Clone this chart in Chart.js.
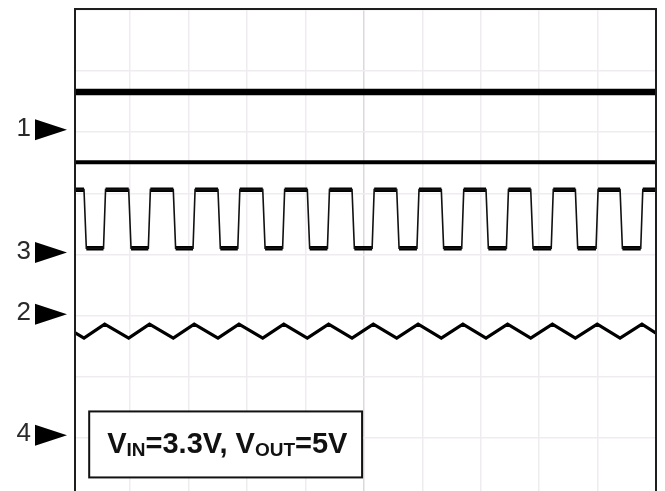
<!DOCTYPE html>
<html><head><meta charset="utf-8">
<script src="https://cdn.jsdelivr.net/npm/chart.js@4/dist/chart.umd.min.js"></script>
<style>html,body{margin:0;padding:0;background:#fff;}#wrap{width:665px;height:491px;}</style>
</head><body><div id="wrap"><canvas id="c" width="665" height="491"></canvas></div>
<script>
// Oscilloscope screen, values in divisions (10 horizontal x 8 vertical)
const xMin = 0.04, xMax = 10;
const yMin = -3.872, yMax = 4;
const xGridValues = [1, 2, 3, 4, 5, 6, 7, 8, 9];
const yGridValues = [4, 3, 2, 1, 0, -1, -2, -3];

const channelLabels = ['1', '3', '2', '4'];
const channelMarkerLevels = [2.04, 0.03, -0.98, -2.96];

const trace1Level = 2.66;
const trace2Level = 1.51;

const squareHigh = 1.06;
const squareLow = 0.10;
const squareFallX = [0.211, 0.976, 1.739, 2.504, 3.270, 4.033, 4.798, 5.563, 6.326, 7.091, 7.856, 8.620, 9.385];
const squareRiseX = [0.545, 1.312, 2.077, 2.843, 3.610, 4.377, 5.142, 5.909, 6.675, 7.440, 8.207, 8.974, 9.739];

const triPeakX   = [0.565, 1.332, 2.097, 2.863, 3.630, 4.397, 5.162, 5.929, 6.695, 7.460, 8.227, 8.994, 9.759];
const triTroughX = [0.211, 0.976, 1.739, 2.504, 3.270, 4.033, 4.798, 5.563, 6.326, 7.091, 7.856, 8.620, 9.385];
const triPeak = -1.14;
const triTrough = -1.37;
const triStartY = -1.27;
const triEndY = -1.29;

const noteParts = [
  {text: 'V', sub: false}, {text: 'IN', sub: true}, {text: '=3.3V, V', sub: false},
  {text: 'OUT', sub: true}, {text: '=5V', sub: false}
];
const noteBox = {x0: 0.30, x1: 4.97, y0: -2.57, y1: -3.65};

// ---- build datasets from the arrays ----
const FALL_W = 0.04, RISE_W = 0.035;
const squarePts = [{x: xMin, y: squareHigh}];
const levelPts = [];
let segStart = xMin;
for (let i = 0; i < squareFallX.length; i++) {
  const f = squareFallX[i], r = squareRiseX[i];
  squarePts.push({x: f, y: squareHigh}, {x: f + FALL_W, y: squareLow}, {x: r, y: squareLow}, {x: r + RISE_W, y: squareHigh});
  levelPts.push({x: segStart, y: squareHigh}, {x: f, y: squareHigh}, {x: f, y: null});
  levelPts.push({x: f + FALL_W, y: squareLow}, {x: r, y: squareLow}, {x: r, y: null});
  segStart = r + RISE_W;
}
squarePts.push({x: xMax, y: squareHigh});
levelPts.push({x: segStart, y: squareHigh}, {x: xMax, y: squareHigh});

const triPts = [{x: xMin, y: triStartY}];
for (let i = 0; i < triTroughX.length; i++) {
  triPts.push({x: triTroughX[i], y: triTrough}, {x: triPeakX[i], y: triPeak});
}
triPts.push({x: xMax, y: triEndY});

const FONT = "'Liberation Sans', Arial, Helvetica, sans-serif";

const scopePlugin = {
  id: 'scope',
  afterDatasetsDraw(chart) {
    const ctx = chart.ctx, a = chart.chartArea;
    const xs = chart.scales.x, ys = chart.scales.y;
    ctx.save();
    // frame
    ctx.strokeStyle = '#1e1e1e';
    ctx.lineWidth = 2;
    ctx.beginPath();
    ctx.moveTo(a.left + 1, a.bottom + 2);
    ctx.lineTo(a.left + 1, a.top - 1);
    ctx.lineTo(a.right, a.top - 1);
    ctx.lineTo(a.right, a.bottom + 2);
    ctx.stroke();
    // channel markers
    ctx.font = '26px ' + FONT;
    ctx.textAlign = 'right';
    ctx.textBaseline = 'middle';
    channelLabels.forEach((lab, i) => {
      const y = ys.getPixelForValue(channelMarkerLevels[i]);
      ctx.fillStyle = '#000';
      ctx.beginPath();
      ctx.moveTo(a.left - 39, y - 10.5);
      ctx.lineTo(a.left - 39, y + 10.5);
      ctx.lineTo(a.left - 7, y);
      ctx.closePath();
      ctx.fill();
      ctx.fillStyle = '#2a2a2a';
      ctx.fillText(lab, a.left - 43, y - 1);
    });
    // note box
    const bx0 = xs.getPixelForValue(noteBox.x0), bx1 = xs.getPixelForValue(noteBox.x1);
    const by0 = ys.getPixelForValue(noteBox.y0), by1 = ys.getPixelForValue(noteBox.y1);
    ctx.fillStyle = '#fff';
    ctx.fillRect(bx0, by0, bx1 - bx0, by1 - by0);
    ctx.strokeStyle = '#111';
    ctx.lineWidth = 2;
    ctx.strokeRect(bx0, by0, bx1 - bx0, by1 - by0);
    ctx.fillStyle = '#111';
    ctx.textAlign = 'left';
    ctx.textBaseline = 'alphabetic';
    let tx = bx0 + 18;
    const base = by0 + 41.5;
    noteParts.forEach(p => {
      ctx.font = (p.sub ? 'bold 19px ' : 'bold 29px ') + FONT;
      ctx.fillText(p.text, tx, p.sub ? base + 3 : base);
      tx += ctx.measureText(p.text).width;
    });
    ctx.restore();
  }
};

const gridColor = ctx => (ctx.tick && ctx.tick.value === 5) ? '#dcd8dc' : '#efecef';

new Chart(document.getElementById('c'), {
  type: 'line',
  data: {
    datasets: [
      {data: [{x: xMin, y: trace1Level}, {x: xMax, y: trace1Level}], borderColor: '#000', borderWidth: 6.5},
      {data: [{x: xMin, y: trace2Level}, {x: xMax, y: trace2Level}], borderColor: '#000', borderWidth: 4},
      {data: squarePts, borderColor: '#111', borderWidth: 1.6},
      {data: levelPts, borderColor: '#000', borderWidth: 4.5, spanGaps: false},
      {data: triPts, borderColor: '#000', borderWidth: 3.2, borderJoinStyle: 'miter'}
    ]
  },
  options: {
    responsive: false,
    animation: false,
    events: [],
    layout: {padding: {left: 74, right: 9, top: 10, bottom: 0}},
    elements: {point: {radius: 0}, line: {tension: 0, fill: false}},
    plugins: {legend: {display: false}, tooltip: {enabled: false}, title: {display: false}},
    scales: {
      x: {
        type: 'linear', min: xMin, max: xMax,
        afterBuildTicks: s => { s.ticks = xGridValues.map(v => ({value: v})); },
        ticks: {display: false},
        border: {display: false},
        grid: {drawTicks: false, color: gridColor, lineWidth: 1.5}
      },
      y: {
        type: 'linear', min: yMin, max: yMax,
        afterBuildTicks: s => { s.ticks = yGridValues.map(v => ({value: v})); },
        ticks: {display: false},
        border: {display: false},
        grid: {drawTicks: false, color: '#efecef', lineWidth: 1.5}
      }
    }
  },
  plugins: [scopePlugin]
});
</script>
</body></html>
